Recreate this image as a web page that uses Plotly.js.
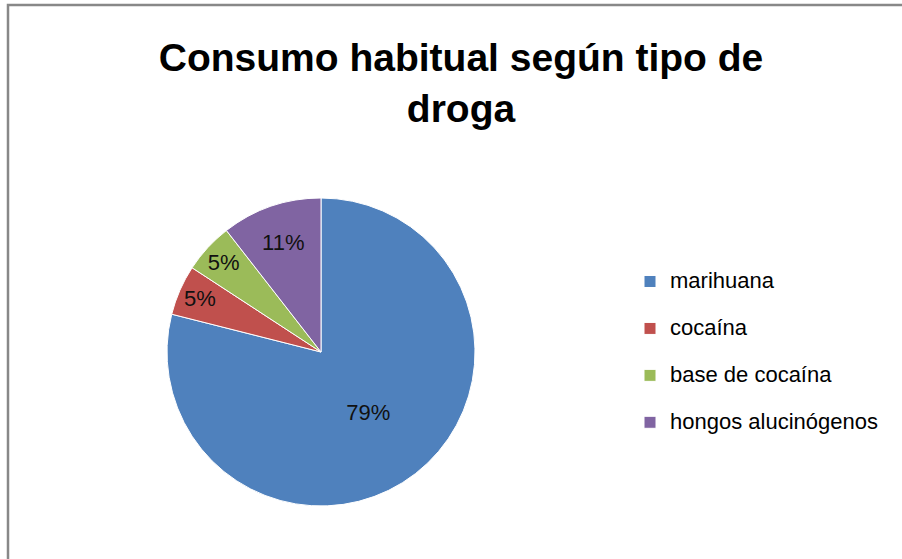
<!DOCTYPE html>
<html>
<head>
<meta charset="utf-8">
<script src="https://cdn.plot.ly/plotly-3.0.1.min.js"></script>
<style>html,body{margin:0;padding:0;background:#fff;}#chart{width:902px;height:559px;}</style>
</head>
<body>
<div id="chart"></div>
<script>
const categories = ['marihuana', 'cocaína', 'base de cocaína', 'hongos alucinógenos'];
const values = [15, 1, 1, 2];
const colors = ['#4F81BD', '#C0504D', '#9BBB59', '#8064A2'];
const titleText = 'Consumo habitual según tipo de<br>droga';

const legendLabels = categories.map(c => '<span style="font-size:22px">' + c + '</span><br> ');

const W = 902, H = 559;
const cx = 321, cy = 352, r = 154;

const data = [{
  type: 'pie',
  labels: legendLabels,
  values: values,
  sort: false,
  direction: 'clockwise',
  rotation: 0,
  marker: {colors: colors, line: {color: '#ffffff', width: 1}},
  textinfo: 'percent',
  texttemplate: '%{percent:.0%}',
  textposition: 'inside',
  insidetextorientation: 'horizontal',
  textfont: {family: 'Liberation Sans, Arial, sans-serif', size: 22, color: '#111111'},
  hoverinfo: 'skip',
  domain: {x: [(cx - r) / W, (cx + r) / W], y: [(H - cy - r) / H, (H - cy + r) / H]}
}];

const layout = {
  width: W, height: H,
  margin: {l: 0, r: 0, t: 0, b: 0},
  paper_bgcolor: '#ffffff',
  font: {family: 'Liberation Sans, Arial, sans-serif', color: '#000000'},
  title: {
    text: titleText,
    font: {family: 'Liberation Sans, Arial, sans-serif', size: 39, color: '#000000', weight: 'bold'},
    x: 461 / W, xanchor: 'center', xref: 'container',
    y: 1 - 71 / H, yanchor: 'top', yref: 'container'
  },
  uniformtext: {mode: 'show', minsize: 22},
  showlegend: true,
  legend: {
    x: 630 / W, xanchor: 'left', y: (H - 264) / H, yanchor: 'top',
    font: {family: 'Liberation Sans, Arial, sans-serif', size: 16.9, color: '#000000'},
    valign: 'top',
    bgcolor: 'rgba(0,0,0,0)', borderwidth: 0,
    traceorder: 'normal'
  },
  shapes: [{
    type: 'rect', xref: 'paper', yref: 'paper',
    x0: 8 / W, x1: 1.02, y0: -0.02, y1: 1 - 5 / H,
    line: {color: '#888888', width: 2.5}, fillcolor: 'rgba(0,0,0,0)', layer: 'below'
  }]
};

Plotly.newPlot('chart', data, layout, {displayModeBar: false, staticPlot: true});
</script>
</body>
</html>
